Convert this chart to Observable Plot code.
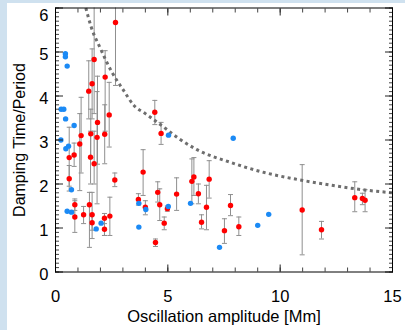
<!DOCTYPE html>
<html><head><meta charset="utf-8">
<script src="https://cdn.jsdelivr.net/npm/d3@7"></script>
<script src="https://cdn.jsdelivr.net/npm/@observablehq/plot@0.6"></script>
<style>
html,body{margin:0;padding:0;background:#cfe1ef;width:405px;height:330px;overflow:hidden;}
#chart{position:absolute;left:7px;top:3px;width:398px;height:327px;background:#fff;}
</style></head><body><div id="chart"></div>
<script>
// Red measurements with error bars
const redX  = [2.67,1.72,1.63,1.48,2.21,2.39,1.87,1.14,1.57,2.19,1.08,1.85,0.83,0.61,0.61,1.56,1.72,2.64,3.90,0.86,0.86,1.51,1.25,1.63,1.63,2.42,2.18,2.18,3.69,4.42,4.70,4.55,4.64,4.84,4.45,4.98,5.39,6.07,6.16,6.36,6.84,6.72,6.50,7.79,7.52,8.16,10.98,11.84,13.32,13.66,13.78,4.00];
const redY  = [5.67,4.83,4.28,4.11,4.43,3.57,3.40,3.10,3.14,3.13,2.91,3.06,2.66,2.60,2.12,2.61,2.46,2.09,2.27,1.53,1.25,1.53,1.30,1.30,1.12,1.27,1.22,0.97,1.65,3.63,3.15,1.81,1.53,1.11,0.67,1.44,1.77,2.06,2.16,1.78,2.11,1.47,1.13,1.51,0.94,1.03,1.41,0.96,1.69,1.67,1.63,1.47];
const redLo = [4.24,3.60,3.48,3.48,3.20,2.84,2.45,2.25,2.60,2.46,1.85,1.55,2.40,1.95,1.84,2.00,2.00,1.94,1.74,1.40,0.90,0.56,1.10,0.76,0.95,0.83,0.83,0.83,1.52,3.35,2.90,1.59,1.17,0.96,0.58,1.38,1.40,1.55,1.74,1.55,1.68,0.96,0.98,1.28,0.65,0.83,0.39,0.75,1.37,1.53,1.37,1.30];
const redHi = [7.10,6.10,5.07,4.80,5.03,4.31,4.45,3.97,3.70,3.80,3.60,4.10,2.93,3.29,2.42,3.20,3.20,2.25,2.78,1.66,1.62,1.81,1.49,1.81,1.30,1.70,1.33,1.10,1.78,3.90,3.40,2.05,1.89,1.25,0.75,1.50,2.14,2.57,2.60,2.00,2.53,1.97,1.30,1.76,1.21,1.25,2.44,1.15,2.05,1.79,1.87,1.62];
// Blue measurements (no error bars)
const blueX = [0.44,0.44,0.52,0.25,0.37,0.45,0.83,0.24,0.46,0.58,0.71,0.52,0.71,1.81,2.03,3.71,3.71,4.02,5.02,5.03,6.01,7.91,7.30,9.00,9.49];
const blueY = [4.96,4.89,4.68,3.70,3.70,3.48,3.33,3.00,2.80,2.86,1.87,1.38,1.36,0.98,1.11,1.56,1.02,1.42,1.49,3.11,1.56,3.04,0.56,1.06,1.31];
// Dotted curve
const curveX = [1.35,1.6,2.0,2.5,3.0,3.5,4.0,4.8,5.5,6.3,7.8,9.3,10.8,12.3,13.5,15.0];
const curveY = [6.0,5.55,5.08,4.55,4.15,3.78,3.6,3.3,3.03,2.78,2.49,2.26,2.10,1.97,1.88,1.80];
// Ticks
const xMajor = [0,5,10,15];
const xMinor = [0,1,2,3,4,5,6,7,8,9,10,11,12,13,14,15];
const yMajor = [0,1,2,3,4,5,6];
const yLabelsLow = [0,1,2,3,4,5];
const yLabelsTop = [6];
const yMinor = [];
for (let i = 0; i <= 60; i++) yMinor.push(i / 10);

const reds = redX.map((x, i) => ({x, y: redY[i], lo: redLo[i], hi: redHi[i]}));
const blues = blueX.map((x, i) => ({x, y: blueY[i]}));
const curve = curveX.map((x, i) => ({x, y: curveY[i]}));

const cap = {draw(ctx) { ctx.moveTo(-2.5, 0); ctx.lineTo(2.5, 0); }};
const barColor = "#8f8f8f";
const font = "'Liberation Sans', Arial, sans-serif";
const blank = () => "";

const chart = Plot.plot({
  width: 398, height: 327,
  marginLeft: 48, marginRight: 13, marginTop: 4.5, marginBottom: 58.5,
  style: {fontFamily: font, fontSize: "16px", background: "white", color: "black"},
  x: {domain: [0, 15]},
  y: {domain: [0, 6]},
  marks: [
    Plot.ruleX(reds, {x: "x", y1: "lo", y2: "hi", stroke: barColor, strokeWidth: 1, clip: true}),
    Plot.dot(reds, {x: "x", y: "lo", symbol: cap, r: 3, stroke: barColor, fill: "none", strokeWidth: 1, clip: true}),
    Plot.dot(reds, {x: "x", y: "hi", symbol: cap, r: 3, stroke: barColor, fill: "none", strokeWidth: 1, clip: true}),
    Plot.line(curve, {x: "x", y: "y", curve: "monotone-x", stroke: "#6e6e6e", strokeWidth: 3, strokeDasharray: "3,3.4", strokeLinecap: "butt", clip: true}),
    Plot.dot(reds, {x: "x", y: "y", r: 2.7, fill: "#ff0000", stroke: "none"}),
    Plot.dot(blues, {x: "x", y: "y", r: 2.7, fill: "#1b8af5", stroke: "none"}),
    // inward ticks
    Plot.axisY(yMinor, {anchor: "left", tickSize: 4, dx: 4, fill: "none", label: null, stroke: "#444"}),
    Plot.axisY(yMajor, {anchor: "left", tickSize: 8, dx: 8, fill: "none", label: null, stroke: "#222"}),
    Plot.axisY(yMinor, {anchor: "right", tickSize: 4, dx: -4, fill: "none", label: null, stroke: "#444"}),
    Plot.axisY(yMajor, {anchor: "right", tickSize: 8, dx: -8, fill: "none", label: null, stroke: "#222"}),
    Plot.axisX(xMinor, {anchor: "bottom", tickSize: 4, dy: -4, fill: "none", label: null, stroke: "#444"}),
    Plot.axisX(xMajor, {anchor: "bottom", tickSize: 7, dy: -7, fill: "none", label: null, stroke: "#222"}),
    Plot.axisX(xMinor, {anchor: "top", tickSize: 4, dy: 4, fill: "none", label: null, stroke: "#444"}),
    Plot.axisX(xMajor, {anchor: "top", tickSize: 7, dy: 7, fill: "none", label: null, stroke: "#222"}),
    // labels
    Plot.axisY(yLabelsLow, {anchor: "left", tickSize: 0, tickPadding: 7, dy: 3, fontSize: 16.5, label: null}),
    Plot.axisY(yLabelsTop, {anchor: "left", tickSize: 0, tickPadding: 7, dy: 8, fontSize: 16.5, label: null}),
    Plot.axisY(yMajor, {anchor: "left", tickSize: 0, tickFormat: blank, label: "Damping Time/Period", labelAnchor: "center", labelOffset: 42, labelArrow: "none", fontSize: 16}),
    Plot.axisX(xMajor, {anchor: "bottom", tickSize: 0, tickPadding: 18, fontSize: 16.5, label: null}),
    Plot.axisX(xMajor, {anchor: "bottom", tickSize: 0, tickFormat: blank, label: "Oscillation amplitude [Mm]", labelAnchor: "center", labelOffset: 50, labelArrow: "none", fontSize: 16.5}),
    Plot.frame({stroke: "black", strokeWidth: 1})
  ]
});
document.getElementById("chart").appendChild(chart);
</script></body></html>
